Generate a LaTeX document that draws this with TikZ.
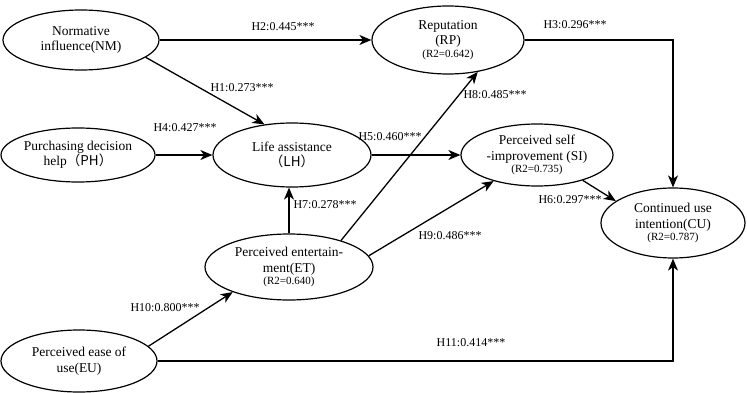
\documentclass[tikz,border=0pt]{standalone}
\usepackage{fontspec}
\setmainfont{Liberation Serif}
\newfontfamily\cjk{Noto Sans CJK SC}
\newcommand\rsqfont{\fontsize{11}{13}\selectfont}
\usetikzlibrary{arrows.meta,shapes.geometric}
\begin{document}
\begin{tikzpicture}[x=1pt,y=-1pt,
  latent/.style={ellipse,draw,line width=1.2pt,inner sep=0pt,align=center,
    font=\fontsize{13.5}{15.5}\selectfont},
  path/.style={line width=1.3pt,-{Stealth[length=12pt,width=10pt,inset=3.5pt]}},
  coef/.style={font=\fontsize{12}{14}\selectfont,inner sep=1pt}]
\useasboundingbox (0,0) rectangle (747,393);
\node[latent,minimum width=156pt,minimum height=60pt] (NM) at (81,40) {Normative\\influence(NM)};
\node[latent,minimum width=154pt,minimum height=54pt] (PH) at (78,155) {Purchasing decision\\help\cjk{（}PH\cjk{）}};
\node[latent,minimum width=158pt,minimum height=64pt] (LH) at (292,155) {Life assistance\\\cjk{（}LH\cjk{）}};
\node[latent,minimum width=152pt,minimum height=68pt] (RP) at (448,40) {Reputation\\(RP)\\[-3pt]{\rsqfont(R2=0.642)}};
\node[latent,minimum width=152pt,minimum height=62pt] (SI) at (537,155) {Perceived self\\-improvement (SI)\\[-3pt]{\rsqfont(R2=0.735)}};
\node[latent,minimum width=144pt,minimum height=70pt] (CU) at (673,223) {Continued use\\intention(CU)\\[-3pt]{\rsqfont(R2=0.787)}};
\node[latent,minimum width=168pt,minimum height=66pt] (ET) at (289,267) {Perceived entertain-\\ment(ET)\\[-3pt]{\rsqfont(R2=0.640)}};
\node[latent,minimum width=156pt,minimum height=62pt] (EU) at (79,361) {Perceived ease of\\use(EU)};

\draw[path] (NM) -- (RP);
\draw[path] (NM.-15) -- (LH.132);
\draw[path] (PH) -- (LH);
\draw[path] (LH) -- (SI);
\draw[path] (ET.north) -- (ET.north |- LH.south);
\draw[path] (ET.27) -- (RP.-47);
\draw[path] (ET.8) -- (SI.211);
\draw[path] (SI.-29) -- (CU.159);
\draw[path] (RP.east) -| (CU.north);
\draw[path] (EU.east) -| (CU.south);
\draw[path] (EU.12) -- (ET.204);

\node[coef] (l2) at (283,27) {H2:0.445***};
\node[coef] (l1) at (242,88) {H1:0.273***};
\node[coef] (l4) at (185,128) {H4:0.427***};
\node[coef] (l5) at (390,137) {H5:0.460***};
\node[coef] (l3) at (575,25) {H3:0.296***};
\node[coef] (l8) at (495,95) {H8:0.485***};
\node[coef] (l7) at (325,205) {H7:0.278***};
\node[coef] (l9) at (450,236) {H9:0.486***};
\node[coef] (l6) at (570,200) {H6:0.297***};
\node[coef] (l10) at (165,308) {H10:0.800***};
\node[coef] (l11) at (471,343) {H11:0.414***};
\end{tikzpicture}
\end{document}
